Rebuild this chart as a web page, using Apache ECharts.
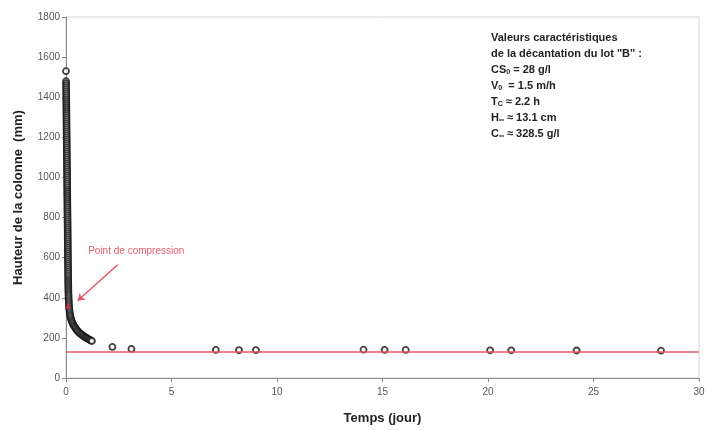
<!DOCTYPE html>
<html>
<head>
<meta charset="utf-8">
<style>
  html, body { margin: 0; padding: 0; background: #fff; }
  #chart { width: 708px; height: 430px; }
</style>
</head>
<body>
<div id="chart"></div>
<script src="https://cdn.jsdelivr.net/npm/echarts@6/dist/echarts.min.js"></script>
<script>
// lot "B" : temps (jour) et hauteur de l'interface (mm)
// phase de chute libre, les premières minutes
const tempsColonne = [
  0,
  0.004, 0.005, 0.006, 0.007, 0.008, 0.009, 0.010, 0.011, 0.012, 0.013,
  0.014, 0.015, 0.016, 0.017, 0.018, 0.019, 0.020, 0.021, 0.022, 0.023,
  0.024, 0.025, 0.026, 0.027, 0.028, 0.029, 0.030, 0.031, 0.032, 0.033,
  0.034, 0.035, 0.036, 0.037, 0.038, 0.039, 0.040, 0.041, 0.042, 0.043,
  0.044, 0.045, 0.046, 0.047, 0.048, 0.049, 0.050, 0.051, 0.052, 0.053,
  0.054, 0.055, 0.056, 0.057, 0.058, 0.059, 0.060, 0.061, 0.062, 0.063,
  0.064, 0.065, 0.066, 0.067, 0.068, 0.069, 0.070, 0.071, 0.072, 0.073,
  0.074, 0.075, 0.076, 0.077, 0.078, 0.079, 0.080, 0.081, 0.082, 0.083,
  0.084, 0.085, 0.086, 0.087, 0.088, 0.089, 0.090, 0.091, 0.092, 0.093,
  0.094, 0.095, 0.096, 0.097, 0.098, 0.099, 0.100, 0.101, 0.102, 0.103
];
const hauteurColonne = [
  1530,
  1480, 1470, 1460, 1450, 1440, 1430, 1420, 1410, 1400, 1390,
  1380, 1370, 1360, 1350, 1340, 1330, 1320, 1310, 1300, 1290,
  1280, 1270, 1260, 1250, 1240, 1230, 1220, 1210, 1200, 1190,
  1180, 1170, 1160, 1150, 1140, 1130, 1120, 1110, 1100, 1090,
  1080, 1070, 1060, 1050, 1040, 1030, 1020, 1010, 1000, 990,
  980, 970, 960, 950, 940, 930, 920, 910, 900, 890,
  880, 870, 860, 850, 840, 830, 820, 810, 800, 790,
  780, 770, 760, 750, 740, 730, 720, 710, 700, 690,
  680, 670, 660, 650, 640, 630, 620, 610, 600, 590,
  580, 570, 560, 550, 540, 530, 520, 510, 500, 490
];
// ralentissement puis compression
const tempsCourbe = [
  0.104, 0.106, 0.108, 0.110, 0.112, 0.114, 0.117, 0.120, 0.124, 0.128,
  0.133, 0.138, 0.144, 0.150,
  0.160, 0.172, 0.186, 0.20, 0.22, 0.24, 0.265, 0.29, 0.32, 0.35,
  0.38, 0.42, 0.46, 0.50, 0.54, 0.58, 0.63, 0.68, 0.73, 0.78,
  0.83, 0.88, 0.93, 0.98, 1.03, 1.08, 1.13, 1.18, 1.23
];
const hauteurCourbe = [
  480, 470, 460, 450, 440, 430, 420, 410, 400, 390,
  380, 370, 360, 350,
  340, 330, 320, 311, 302, 294, 286, 279, 272, 265,
  259, 253, 247, 241, 236, 231, 226, 221, 217, 213,
  209, 205, 202, 199, 196, 193, 190, 187, 184
];
// mesures journalières
const tempsPlateau = [2.2, 3.1, 7.1, 8.2, 9.0, 14.1, 15.1, 16.1, 20.1, 21.1, 24.2, 28.2];
const hauteurPlateau = [155, 145, 140, 139, 139, 141, 140, 140, 138, 138, 137, 136];

const pointCompression = [[0.1, 360]];
const hInfini = 131;
const flecheDebut = [2.45, 565];
const flecheFin = [0.55, 385];
const etiquetteCompression = [[1.05, 631]];
const xTicks = { min: 0, max: 30, interval: 5 };
const yTicks = { min: 0, max: 1800, interval: 200 };

const toPairs = (xs, ys) => xs.map((x, i) => [x, ys[i]]);
const mesures = [].concat(
  toPairs(tempsColonne, hauteurColonne),
  toPairs(tempsCourbe, hauteurCourbe),
  toPairs(tempsPlateau, hauteurPlateau)
);

const chart = echarts.init(document.getElementById('chart'));
const option = {
  animation: false,
  backgroundColor: '#fff',
  textStyle: { fontFamily: 'Liberation Sans, Arial, sans-serif' },
  grid: {
    left: 66, right: 9, top: 17, bottom: 48,
    show: true, borderColor: '#d4d4d4', borderWidth: 1
  },
  xAxis: {
    type: 'value', min: xTicks.min, max: xTicks.max, interval: xTicks.interval,
    name: 'Temps (jour)', nameLocation: 'middle', nameGap: 34,
    nameTextStyle: { fontSize: 13, fontWeight: 'bold', color: '#222' },
    axisLine: { lineStyle: { color: '#8a8a8a' } },
    axisTick: { lineStyle: { color: '#8a8a8a' }, length: 4 },
    axisLabel: { fontSize: 10, color: '#555', margin: 9, formatter: v => String(v) },
    splitLine: { show: false }
  },
  yAxis: {
    type: 'value', min: yTicks.min, max: yTicks.max, interval: yTicks.interval,
    name: 'Hauteur de la colonne  (mm)', nameLocation: 'middle', nameGap: 41,
    nameRotate: 90,
    nameTextStyle: { fontSize: 13, fontWeight: 'bold', color: '#222' },
    axisLine: { show: true, lineStyle: { color: '#8a8a8a' } },
    axisTick: { show: true, lineStyle: { color: '#8a8a8a' }, length: 4 },
    axisLabel: { fontSize: 10, color: '#555', margin: 6, formatter: v => String(v) },
    splitLine: { show: false }
  },
  series: [
    {
      type: 'scatter',
      data: mesures,
      symbol: 'circle',
      symbolSize: 6,
      itemStyle: { color: '#fff', borderColor: '#111', borderWidth: 1.8 },
      z: 3,
      markLine: {
        silent: true,
        symbol: 'none',
        label: { show: false },
        lineStyle: { color: '#e5566a', width: 1.5, type: 'solid' },
        data: [
          { yAxis: hInfini },
          [
            { coord: flecheDebut, symbol: 'none' },
            { coord: flecheFin, symbol: 'arrow', symbolSize: 7 }
          ]
        ]
      }
    },
    {
      type: 'scatter',
      data: pointCompression,
      symbol: 'triangle',
      symbolSize: 6,
      itemStyle: { color: '#e0303f' },
      z: 5
    },
    {
      type: 'scatter',
      data: etiquetteCompression,
      symbolSize: 0,
      label: {
        show: true, position: 'right', distance: 0,
        formatter: 'Point de compression',
        fontSize: 10, color: '#e0304a'
      }
    }
  ],
  graphic: [{
    type: 'text',
    left: 491, top: 32,
    style: {
      text: [
        '{b|Valeurs caractéristiques}',
        '{b|de la décantation du lot "B" :}',
        '{b|CS}{s|0}{b|\u00a0= 28 g/l}',
        '{b|V}{s|0}{b|\u00a0\u00a0= 1.5 m/h}',
        '{b|T}{s|C}{b|\u00a0≈ 2.2 h}',
        '{b|H}{s|∞}{b|\u00a0≈ 13.1 cm}',
        '{b|C}{s|∞}{b|\u00a0≈ 328.5 g/l}'
      ].join('\n'),
      rich: {
        b: { fontSize: 11, fontWeight: 'bold', fill: '#222', lineHeight: 16, fontFamily: 'Liberation Sans' },
        s: { fontSize: 7, fontWeight: 'bold', fill: '#222', lineHeight: 16, padding: [5, 0, 0, 0], fontFamily: 'Liberation Sans' }
      }
    }
  }]
};
chart.setOption(option);
</script>
</body>
</html>
